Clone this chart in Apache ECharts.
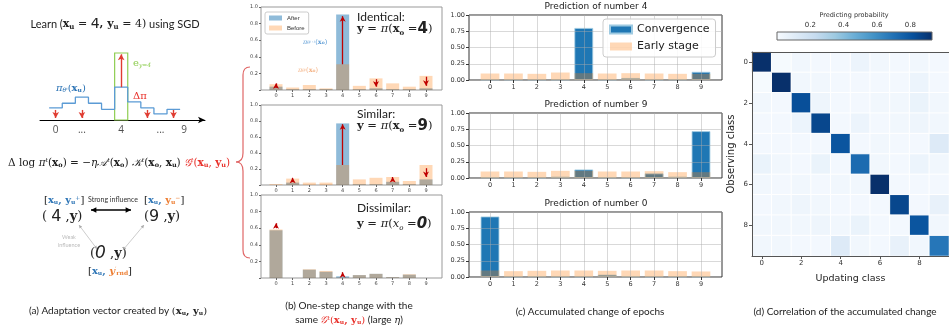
<!DOCTYPE html>
<html><head><meta charset="utf-8">
<script src="https://cdn.jsdelivr.net/npm/echarts@6/dist/echarts.min.js"></script>
<style>html,body{margin:0;padding:0;background:#fff}#c{width:949px;height:328px}</style>
</head><body><div id="c"></div>
<script>
// ---------------- DATA ----------------
const classes = ['0','1','2','3','4','5','6','7','8','9'];

// (a) schematic step distribution
const aPi = [0.18,0.25,0.34,0.25,0.16,0.49,0.27,0.18,0.09,0.16];
const aDownArrowClasses = [0,2,7,9];
const aDownArrowFrom = 0.15, aDownArrowTo = 0.03;
const aUpArrowClass = 5, aUpArrowFrom = 0.49, aUpArrowTo = 0.98;
const aTickPos = [0.5,2.5,5.5,8.5,10.3];
const aTickText = ['0','...','4','...','9'];

// (b) one-step change
const bIdentBefore = [0.07,0.03,0.06,0.02,0.31,0.05,0.14,0.08,0.04,0.17];
const bIdentAfter  = [0.04,0.01,0.01,0.01,0.91,0.01,0.02,0.01,0.01,0.02];
const bIdentArrows = [[0,0.03,0.08],[4,0.31,0.89],[6,0.13,0.04],[9,0.16,0.05]];
const bSimBefore = [0.01,0.08,0.03,0.03,0.25,0.07,0.09,0.10,0.05,0.25];
const bSimAfter  = [0.00,0.03,0.00,0.00,0.77,0.01,0.01,0.04,0.01,0.07];
const bSimArrows = [[1,0.04,0.09],[4,0.25,0.76],[7,0.05,0.10],[9,0.21,0.10]];
const bDisBefore = [0.585,0.0,0.105,0.085,0.005,0.035,0.05,0.01,0.045,0.0];
const bDisAfter  = [0.575,0.0,0.10,0.075,0.02,0.035,0.05,0.01,0.04,0.0];
const bDisArrows = [[0,0.60,0.66],[4,0.03,0.07]];
const bYTicks = [0.2,0.4,0.6,0.8,1.0];

// (c) accumulated change
const c4Conv  = [0.005,0.005,0.005,0.005,0.80,0.005,0.03,0.005,0.01,0.125];
const c4Early = [0.10,0.10,0.095,0.115,0.105,0.10,0.105,0.10,0.095,0.095];
const c9Conv  = [0.01,0.005,0.005,0.02,0.13,0.01,0.005,0.07,0.02,0.72];
const c9Early = [0.10,0.10,0.095,0.11,0.11,0.10,0.10,0.105,0.09,0.09];
const c0Conv  = [0.93,0.005,0.01,0.005,0.005,0.035,0.01,0.005,0.005,0.005];
const c0Early = [0.10,0.09,0.095,0.10,0.10,0.095,0.10,0.10,0.09,0.085];
const cTitles = ['Prediction of number 4','Prediction of number 9','Prediction of number 0'];

// (d) correlation matrix (rows = observing class, cols = updating class)
const dMatrix = [
 [0.95,0.01,0.03,0.02,0.02,0.05,0.03,0.02,0.03,0.02],
 [0.01,0.95,0.03,0.03,0.02,0.02,0.02,0.02,0.05,0.02],
 [0.03,0.02,0.82,0.04,0.02,0.02,0.03,0.03,0.06,0.03],
 [0.02,0.02,0.05,0.85,0.02,0.05,0.02,0.03,0.04,0.03],
 [0.02,0.02,0.02,0.02,0.80,0.02,0.03,0.02,0.02,0.12],
 [0.06,0.03,0.02,0.06,0.02,0.72,0.03,0.02,0.05,0.03],
 [0.03,0.02,0.03,0.02,0.03,0.03,0.95,0.02,0.02,0.02],
 [0.02,0.03,0.04,0.03,0.02,0.02,0.02,0.85,0.02,0.07],
 [0.03,0.03,0.03,0.04,0.03,0.06,0.02,0.02,0.80,0.03],
 [0.03,0.03,0.02,0.02,0.12,0.03,0.02,0.07,0.03,0.68]
];
const dMax = 0.93;
const dColorTicks = [0.2,0.4,0.6,0.8];

// ---------------- STYLE ----------------
const BLUES = ['#f7fbff','#deebf7','#c6dbef','#9ecae1','#6baed6','#4292c6','#2171b5','#08519c','#08306b'];
const AFTER_C = 'rgba(31,119,180,0.5)';
const BEFORE_C = 'rgba(255,127,14,0.3)';
const CONV_C = '#1f77b4';
const RED = '#c00000';
const SERIF = 'DejaVu Serif';
const SANS = 'Lato';
const MPL = 'DejaVu Sans';

const chart = echarts.init(document.getElementById('c'));

function rich(x, y, parts, align, extra) {
  const r = {};
  const txt = parts.map((p,i)=>{
    const s = p[1]||{};
    const st = {fontSize: s.fs||10, fontFamily: s.ff||SANS, fontWeight: s.fw||'normal',
      fontStyle: s.it?'italic':'normal', fill: s.c||'#222', verticalAlign: s.va||'middle'};
    r['t'+i] = st;
    return '{t'+i+'|'+p[0]+'}';
  }).join('');
  return Object.assign({type:'text', x:x, y:y, z:50,
    style:{text:txt, rich:r, align:align||'left', verticalAlign:'middle'}}, extra||{});
}
function M(fs, o){ return Object.assign({fs:fs, ff:SERIF, fw:'bold'}, o||{}); }
function SUB(fs, o){ return Object.assign({fs:fs, ff:SERIF, fw:'bold', va:'bottom'}, o||{}); }
function SUP(fs, o){ return Object.assign({fs:fs, ff:SERIF, va:'top'}, o||{}); }

const grids = [], xAxes = [], yAxes = [], series = [];

// ---- (a) step chart grid ----
grids.push({left:40, top:53, width:165, height:67});
xAxes.push({gridIndex:0, type:'value', min:-0.7, max:11.9, axisLabel:{show:false}, axisTick:{show:false}, splitLine:{show:false},
  axisLine:{show:true, symbol:['none','arrow'], symbolSize:[5,7], lineStyle:{color:'#000', width:1}}});
yAxes.push({gridIndex:0, type:'value', min:0, max:1, show:false});
const stepData = aPi.map((v,i)=>[i,v]).concat([[aPi.length, aPi[aPi.length-1]]]);
const aArrows = aDownArrowClasses.map(c=>[{coord:[c+0.5, aDownArrowFrom]},{coord:[c+0.5, aDownArrowTo]}])
  .concat([[{coord:[aUpArrowClass+0.5, aUpArrowFrom]},{coord:[aUpArrowClass+0.5, aUpArrowTo]}]]);
series.push({type:'line', xAxisIndex:0, yAxisIndex:0, step:'end', data:stepData, symbol:'none', clip:false,
  lineStyle:{color:'#5b9bd5', width:1.3}, silent:true,
  markArea:{silent:true, itemStyle:{color:'rgba(0,0,0,0)', borderColor:'#8fce52', borderWidth:1.2},
    data:[[{xAxis:aUpArrowClass, yAxis:0},{xAxis:aUpArrowClass+1, yAxis:1}]]},
  markLine:{silent:true, symbol:['none','arrow'], symbolSize:[5,6], label:{show:false},
    lineStyle:{color:'#e03c31', width:1.4, type:'solid'}, data:aArrows}});
series.push({type:'scatter', xAxisIndex:0, yAxisIndex:0, symbolSize:0, silent:true,
  data:aTickPos.map((x,i)=>[x,0,aTickText[i]]),
  label:{show:true, position:'bottom', distance:5, fontSize:10, fontFamily:'Open Sans', color:'#222', formatter:p=>p.data[2]}});

// ---- (b) three charts ----
const bTops = [7,105,195], bHeights = [83,80,83];
const bSets = [[bIdentBefore,bIdentAfter,bIdentArrows],[bSimBefore,bSimAfter,bSimArrows],[bDisBefore,bDisAfter,bDisArrows]];
bSets.forEach((set,k)=>{
  const gf = grids.length;
  grids.push({left:261, top:bTops[k], width:181, height:bHeights[k], show:true, borderColor:'#999', borderWidth:1, backgroundColor:'transparent'});
  xAxes.push({gridIndex:gf, type:'category', data:classes, show:false});
  yAxes.push({gridIndex:gf, type:'value', min:0, max:1, interval:0.2,
    axisLine:{show:false}, splitLine:{show:false}, axisTick:{show:true, length:2, lineStyle:{color:'#666'}},
    axisLabel:{fontSize:5, color:'#444', margin:3, fontFamily:MPL, formatter:v=> bYTicks.some(t=>Math.abs(t-v)<1e-6)? v.toFixed(1):''}});
  const gd = grids.length;
  grids.push({left:276, top:bTops[k], width:150, height:bHeights[k]});
  xAxes.push({gridIndex:gd, type:'category', data:classes, boundaryGap:false,
    axisLine:{show:false}, axisTick:{show:true, length:2, lineStyle:{color:'#666'}},
    axisLabel:{fontSize:5, color:'#444', margin:3, fontFamily:MPL}, splitLine:{show:false}});
  yAxes.push({gridIndex:gd, type:'value', min:0, max:1, show:false});
  series.push({name:'After', type:'bar', xAxisIndex:gd, yAxisIndex:gd, data:set[1], barWidth:13, barGap:'-100%', clip:false,
    itemStyle:{color:AFTER_C}, silent:true});
  series.push({name:'Before', type:'bar', xAxisIndex:gd, yAxisIndex:gd, data:set[0], barWidth:13, barGap:'-100%', clip:false,
    itemStyle:{color:BEFORE_C}, silent:true,
    markLine:{silent:true, symbol:['none','arrow'], symbolSize:[4.5,5.5], label:{show:false},
      lineStyle:{color:RED, width:1.3, type:'solid'},
      data:set[2].map(a=>[{coord:[a[0], a[1]]},{coord:[a[0], a[2]]}])}});
});

// ---- (c) three charts ----
const cTops = [15,113,212], cH = 65;
const cSets = [[c4Conv,c4Early],[c9Conv,c9Early],[c0Conv,c0Early]];
cSets.forEach((set,k)=>{
  const gf = grids.length;
  grids.push({left:469, top:cTops[k], width:253, height:cH, show:true, borderColor:'#333', borderWidth:1, backgroundColor:'transparent'});
  xAxes.push({gridIndex:gf, type:'category', data:classes, show:false});
  yAxes.push({gridIndex:gf, type:'value', min:0, max:1, interval:0.25, z:3,
    axisLine:{show:false}, axisTick:{show:true, length:3, lineStyle:{color:'#333'}},
    splitLine:{show:true, lineStyle:{color:'rgba(170,170,170,0.45)', width:1}},
    axisLabel:{fontSize:6.5, color:'#333', margin:4, fontFamily:MPL, formatter:v=>v.toFixed(2)}});
  const gd = grids.length;
  grids.push({left:490, top:cTops[k], width:211, height:cH});
  xAxes.push({gridIndex:gd, type:'category', data:classes, boundaryGap:false, z:3,
    axisLine:{show:false}, axisTick:{show:true, length:3, lineStyle:{color:'#333'}},
    axisLabel:{fontSize:6.5, color:'#333', margin:4, fontFamily:MPL},
    splitLine:{show:true, lineStyle:{color:'rgba(170,170,170,0.45)', width:1}}});
  yAxes.push({gridIndex:gd, type:'value', min:0, max:1, show:false});
  series.push({name:'Convergence', type:'bar', xAxisIndex:gd, yAxisIndex:gd, data:set[0], barWidth:18.7, barGap:'-100%', clip:false,
    itemStyle:{color:CONV_C, borderColor:'#9ecae1', borderWidth:0.8}, silent:true});
  series.push({name:'Early stage', type:'bar', xAxisIndex:gd, yAxisIndex:gd, data:set[1], barWidth:18.7, barGap:'-100%', clip:false,
    itemStyle:{color:BEFORE_C}, silent:true});
});

// ---- (d) heatmap ----
const gh = grids.length;
grids.push({left:752, top:52, width:200, height:204});
const hx = xAxes.length;
xAxes.push({gridIndex:gh, type:'category', data:classes, z:10,
  axisLine:{show:true, lineStyle:{color:'#555'}}, axisTick:{show:true, interval:1, alignWithLabel:true, length:3, lineStyle:{color:'#555'}},
  axisLabel:{interval:1, fontSize:7, color:'#333', margin:4, fontFamily:MPL}, splitLine:{show:false},
  name:'Updating class', nameLocation:'middle', nameGap:18, nameTextStyle:{fontSize:9.5, fontFamily:MPL, color:'#222'}});
const hy = yAxes.length;
yAxes.push({gridIndex:gh, type:'category', data:classes, inverse:true, z:10,
  axisLine:{show:true, lineStyle:{color:'#555'}}, axisTick:{show:true, interval:1, alignWithLabel:true, length:3, lineStyle:{color:'#555'}},
  axisLabel:{interval:1, fontSize:7, color:'#333', margin:4, fontFamily:MPL}, splitLine:{show:false},
  name:'Observing class', nameLocation:'middle', nameGap:16, nameRotate:90, nameTextStyle:{fontSize:10, fontFamily:MPL, color:'#222'}});
xAxes.push({gridIndex:gh, type:'category', data:classes, position:'top', z:10,
  axisLine:{show:true, lineStyle:{color:'#555'}}, axisTick:{show:false}, axisLabel:{show:false}, splitLine:{show:false}});
const heatData = [];
dMatrix.forEach((row,r)=>row.forEach((v,c)=>heatData.push([c,r,v])));
const heatIdx = series.length;
series.push({type:'heatmap', xAxisIndex:hx, yAxisIndex:hy, data:heatData, silent:true,
  itemStyle:{borderColor:'#fff', borderWidth:1}});

// ---- colorbar axis ----
const gcb = grids.length;
grids.push({left:777, top:32, width:155, height:8});
const cbx = xAxes.length;
xAxes.push({gridIndex:gcb, type:'value', min:0, max:dMax, interval:0.2, position:'top',
  axisLine:{show:false}, axisTick:{show:true, length:2, lineStyle:{color:'#444'}}, splitLine:{show:false},
  axisLabel:{fontSize:7, color:'#333', margin:3, fontFamily:MPL, showMinLabel:false, showMaxLabel:false,
    formatter:v=> dColorTicks.some(t=>Math.abs(t-v)<1e-6)? v.toFixed(1):''}});
const cby = yAxes.length;
yAxes.push({gridIndex:gcb, type:'value', show:false, min:0, max:1});
series.push({type:'scatter', xAxisIndex:cbx, yAxisIndex:cby, data:[], silent:true});

// ---------------- GRAPHICS ----------------
const BL = '#2e75b6', OR = '#ed7d31', GR = '#8fce52', RD = '#e8302a';
const g = [];
g.push(rich(115, 24, [['Learn (',{fs:11}],['x',M(11)],['u',SUB(7)],[' = ',M(11,{fw:'normal'})],['4',{fs:14,ff:'DejaVu Sans'}],[', ',M(11)],['y',M(11)],['u',SUB(7)],[' = 4)',M(11,{fw:'normal'})],[' using SGD',{fs:11}]], 'center'));
g.push(rich(56, 88, [['π',{fs:10,ff:SERIF,it:true,c:BL}],['θᵗ',SUB(6,{c:BL,fw:'normal',it:true})],['(',{fs:10,ff:SERIF,c:BL}],['x',M(10,{c:BL})],['u',SUB(6,{c:BL})],[')',{fs:10,ff:SERIF,c:BL}]]));
g.push(rich(133, 63, [['e',{fs:10,ff:SERIF,c:GR}],['y=4',SUB(6,{c:GR,fw:'normal',it:true})]]));
g.push(rich(133, 96, [['Δπ',{fs:10,ff:SERIF,c:RD}]]));
g.push(rich(8, 163, [['Δ log ',{fs:10.5,ff:SERIF}],['π',{fs:10.5,ff:SERIF,it:true}],['t',SUP(6,{it:true})],['(',{fs:10.5,ff:SERIF}],['x',M(10.5)],['o',SUB(6.5)],[') = −',{fs:10.5,ff:SERIF}],['η',{fs:10.5,ff:SERIF,it:true}],['𝒜',{fs:10.5,ff:SERIF,it:true}],['t',SUP(6,{it:true})],['(',{fs:10.5,ff:SERIF}],['x',M(10.5)],['o',SUB(6.5)],[') ',{fs:10.5,ff:SERIF}],['𝒦',{fs:10.5,ff:SERIF,it:true}],['t',SUP(6,{it:true})],['(',{fs:10.5,ff:SERIF}],['x',M(10.5)],['o',SUB(6.5)],[', ',{fs:10.5,ff:SERIF}],['x',M(10.5)],['u',SUB(6.5)],[') ',{fs:10.5,ff:SERIF}],['𝒢',{fs:10.5,ff:SERIF,it:true,c:RD}],['t',SUP(6,{it:true,c:RD})],['(',{fs:10.5,ff:SERIF,c:RD}],['x',M(10.5,{c:RD})],['u',SUB(6.5,{c:RD})],[', ',{fs:10.5,ff:SERIF,c:RD}],['y',M(10.5,{c:RD})],['u',SUB(6.5,{c:RD})],[')',{fs:10.5,ff:SERIF,c:RD}]]));
g.push(rich(44, 200, [['[',{fs:10,ff:SERIF}],['x',M(10,{c:BL})],['u',SUB(6,{c:BL})],[', ',M(10,{c:BL})],['y',M(10,{c:BL})],['u',SUB(6,{c:BL})],['+',SUP(6,{c:BL})],[']',{fs:10,ff:SERIF}]]));
g.push(rich(42, 217, [['( ',{fs:13,ff:SERIF}],['4',{fs:16,ff:'DejaVu Sans'}],[' ,',{fs:13,ff:SERIF}],['y',M(13)],[')',{fs:13,ff:SERIF}]]));
g.push(rich(88, 200, [['Strong influence',{fs:7,c:'#333'}]]));
g.push(rich(144, 200, [['[',{fs:10,ff:SERIF}],['x',M(10,{c:BL})],['u',SUB(6,{c:BL})],[', ',M(10,{c:BL})],['y',M(10,{c:OR})],['u',SUB(6,{c:OR})],['−',SUP(6,{c:OR})],[']',{fs:10,ff:SERIF}]]));
g.push(rich(144, 217, [['(',{fs:13,ff:SERIF}],['9',{fs:16,ff:'DejaVu Sans'}],[' ,',{fs:13,ff:SERIF}],['y',M(13)],[')',{fs:13,ff:SERIF}]]));
g.push(rich(69, 237, [['Weak',{fs:5.5,c:'#bbb'}]], 'center'));
g.push(rich(69, 245, [['influence',{fs:5.5,c:'#bbb'}]], 'center'));
g.push(rich(90, 254, [['(',{fs:13,ff:SERIF}],['0',{fs:17,ff:'DejaVu Sans',it:true}],[' ,',{fs:13,ff:SERIF}],['y',M(13)],[')',{fs:13,ff:SERIF}]]));
g.push(rich(88, 271, [['[',{fs:10,ff:SERIF}],['x',M(10,{c:BL})],['u',SUB(6,{c:BL})],[', ',M(10,{c:BL})],['y',M(10,{c:OR,it:true})],['′',SUP(6,{c:OR})],['rnd',SUB(6,{c:OR})],[']',{fs:10,ff:SERIF}]]));
function arrowHead(x,y,ang,size,color){
  const a1 = ang+Math.PI*0.85, a2 = ang-Math.PI*0.85;
  return {type:'polygon', z:50, shape:{points:[[x,y],[x+size*Math.cos(a1),y+size*Math.sin(a1)],[x+size*Math.cos(a2),y+size*Math.sin(a2)]]}, style:{fill:color}};
}
function dblArrow(x1,y1,x2,y2,w,color,hs){
  const ang = Math.atan2(y2-y1,x2-x1);
  g.push({type:'line', z:50, shape:{x1:x1,y1:y1,x2:x2,y2:y2}, style:{stroke:color, lineWidth:w}});
  g.push(arrowHead(x2,y2,ang,hs,color));
  g.push(arrowHead(x1,y1,ang+Math.PI,hs,color));
}
dblArrow(91,210,131,210,1.6,'#000',6);
dblArrow(79,225,97,249,0.6,'#aaa',3.5);
dblArrow(144,225,123,250,0.6,'#aaa',3.5);
g.push(rich(118, 311, [['(a) Adaptation vector created by ',{fs:10}],['(',{fs:10,ff:SERIF}],['x',M(10)],['u',SUB(6)],[', ',M(10)],['y',M(10)],['u',SUB(6)],[')',{fs:10,ff:SERIF}]], 'center'));
g.push(rich(349, 306, [['(b) One-step change with the',{fs:10}]], 'center'));
g.push(rich(349, 320, [['same ',{fs:10}],['𝒢',{fs:10,ff:SERIF,it:true,c:RD}],['t',SUP(6,{c:RD,it:true})],['(',{fs:10,ff:SERIF,c:RD}],['x',M(10,{c:RD})],['u',SUB(6,{c:RD})],[', ',M(10,{c:RD})],['y',M(10,{c:RD})],['u',SUB(6,{c:RD})],[')',{fs:10,ff:SERIF,c:RD}],[' (large ',{fs:10}],['η',{fs:10,ff:SERIF,it:true}],[')',{fs:10}]], 'center'));
g.push(rich(590, 312, [['(c) Accumulated change of epochs',{fs:10}]], 'center'));
g.push(rich(845, 312, [['(d) Correlation of the accumulated change',{fs:10}]], 'center'));
const bLab = [['Identical:','4',17,29,false],['Similar:','9',114,126,false],['Dissimilar:','0',208,224,true]];
bLab.forEach(l=>{
  g.push(rich(357, l[2], [[l[0],{fs:12,c:'#222'}]]));
  g.push(rich(357, l[3], [['y',M(11.5)],[' = ',{fs:11.5,ff:SERIF}],['π',{fs:11.5,ff:SERIF,it:true}],['(',{fs:11.5,ff:SERIF}],['x',M(11.5,l[4]?{fw:'normal',it:true}:{})],['o',SUB(7,l[4]?{fw:'normal',it:true}:{})],[' =',{fs:11.5,ff:SERIF}],[l[1],{fs:15,ff:'DejaVu Sans',fw:'bold',it:l[4]}],[')',{fs:11.5,ff:SERIF}]]));
});
g.push(rich(303, 42, [['π',{fs:6.5,ff:SERIF,it:true,c:'#5b9bd5'}],['θᵗ⁺¹',SUB(4.5,{c:'#5b9bd5',fw:'normal',it:true})],['(',{fs:6.5,ff:SERIF,c:'#5b9bd5'}],['x',M(6.5,{c:'#5b9bd5'})],['o',SUB(4.5,{c:'#5b9bd5'})],[')',{fs:6.5,ff:SERIF,c:'#5b9bd5'}]]));
g.push(rich(298, 70, [['π',{fs:6.5,ff:SERIF,it:true,c:'#f4b183'}],['θᵗ',SUB(4.5,{c:'#f4b183',fw:'normal',it:true})],['(',{fs:6.5,ff:SERIF,c:'#f4b183'}],['x',M(6.5,{c:'#f4b183'})],['o',SUB(4.5,{c:'#f4b183'})],[')',{fs:6.5,ff:SERIF,c:'#f4b183'}]]));
// red brace
const braceStyle = {stroke:'#e06666', lineWidth:1.2, fill:'none'};
[[250,67,243,67,243,75],[243,153,243,162,236,162],[236,162,243,162,243,171],[243,250,243,258,250,258]].forEach(b=>{
  g.push({type:'bezierCurve', z:50, shape:{x1:b[0],y1:b[1],cpx1:b[2],cpy1:b[3],x2:b[4],y2:b[5]}, style:braceStyle});
});
g.push({type:'line', z:50, shape:{x1:243,y1:75,x2:243,y2:153}, style:braceStyle});
g.push({type:'line', z:50, shape:{x1:243,y1:171,x2:243,y2:250}, style:braceStyle});
cTitles.forEach((t,k)=>g.push(rich(596, cTops[k]-8, [[t,{fs:9,ff:MPL,c:'#222'}]], 'center')));
g.push({type:'rect', z:40, shape:{x:777,y:32,width:155,height:8},
  style:{fill:new echarts.graphic.LinearGradient(0,0,1,0, BLUES.map((c,i)=>({offset:i/(BLUES.length-1), color:c}))), stroke:'#666', lineWidth:1}});
g.push(rich(854, 15, [['Predicting probability',{fs:6.5,ff:MPL,c:'#333'}]], 'center'));

const option = {
  animation:false,
  backgroundColor:'#fff',
  grid:grids, xAxis:xAxes, yAxis:yAxes, series:series,
  visualMap:[{type:'continuous', show:false, min:0, max:dMax, seriesIndex:heatIdx, inRange:{color:BLUES}}],
  legend:[
    {data:['After','Before'], left:265, top:12, orient:'vertical', itemWidth:13, itemHeight:5, itemGap:4, padding:[3,4],
      selectedMode:false, backgroundColor:'#fff', borderColor:'#ccc', borderWidth:1, borderRadius:2, icon:'rect',
      textStyle:{fontSize:6, fontFamily:'Liberation Sans', color:'#333'}},
    {data:['Convergence','Early stage'], left:603, top:19, orient:'vertical', itemWidth:22, itemHeight:8, itemGap:6, padding:[5,6],
      selectedMode:false, backgroundColor:'rgba(255,255,255,0.85)', borderColor:'#ccc', borderWidth:1, borderRadius:3, icon:'rect',
      textStyle:{fontSize:11, fontFamily:MPL, color:'#222'}}
  ],
  graphic:g
};
chart.setOption(option);
</script></body></html>
